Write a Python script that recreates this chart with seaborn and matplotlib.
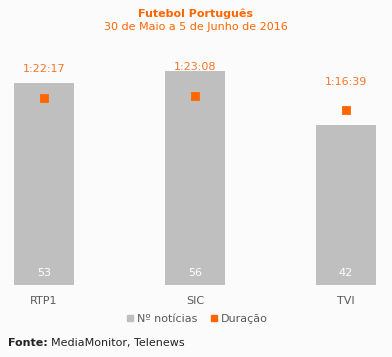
import matplotlib
matplotlib.use("Agg")
import matplotlib.pyplot as plt
import seaborn as sns
import pandas as pd
from matplotlib.lines import Line2D

# ====================
#  DATA
# ====================

canais = ["RTP1", "SIC", "TVI"]
noticias = [53, 56, 42]
duracao_txt = ["1:22:17", "1:23:08", "1:16:39"]


def to_seconds(t):
    h, m, s = [int(p) for p in t.split(":")]
    return h * 3600 + m * 60 + s


duracao_seg = [to_seconds(t) for t in duracao_txt]

# ====================
#  STYLE
# ====================

sns.set_style("white")
plt.rcParams["font.family"] = ["DejaVu Sans"]

BG = "#fbfbfb"
GREY = "#bfbfbf"
ORANGE = "#ff6600"
LABEL_ORANGE = "#f7752a"
TEXT = "#595959"

df = pd.DataFrame({"canal": canais, "noticias": noticias, "duracao": duracao_seg})

fig = plt.figure(figsize=(3.92, 3.57), dpi=100, facecolor=BG)
ax = fig.add_axes([5 / 392, 1 - 285 / 357, 380 / 392, 225 / 357])
ax.set_facecolor(BG)

sns.barplot(data=df, x="canal", y="noticias", color=GREY, width=0.4,
            saturation=1, ax=ax, edgecolor="none")

# bar values, white, at the foot of each bar
for i, v in enumerate(noticias):
    ax.annotate(str(v), (i, 0), xytext=(0, 5), textcoords="offset points",
                ha="center", va="bottom", color="white", fontsize=8)

ax.set_ylim(0, 59)

ax2 = ax.twinx()
sns.pointplot(data=df, x="canal", y="duracao", color=ORANGE, markers="s",
              linestyle="none", markersize=5, ax=ax2, errorbar=None)
ax2.set_ylim(-148, 5966)

for i, (v, t) in enumerate(zip(duracao_seg, duracao_txt)):
    ax2.annotate(t, (i, v), xytext=(0, 17), textcoords="offset points",
                 ha="center", va="bottom", color=LABEL_ORANGE, fontsize=8)

for a in (ax, ax2):
    a.set_xlim(-0.258, 2.258)
    a.set_xlabel("")
    a.set_ylabel("")
    a.set_yticks([])
    for s in a.spines.values():
        s.set_visible(False)

ax.tick_params(axis="x", length=0, colors=TEXT, labelsize=8, pad=8)

# titles
fig.text(0.5, 1 - 14 / 357, "Futebol Português", ha="center", va="center",
         fontsize=8, fontweight="bold", color=ORANGE)
fig.text(0.5, 1 - 27 / 357, "30 de Maio a 5 de Junho de 2016", ha="center",
         va="center", fontsize=8, color=ORANGE)

# legend
handles = [
    Line2D([], [], marker="s", linestyle="none", color=GREY, markersize=5),
    Line2D([], [], marker="s", linestyle="none", color=ORANGE, markersize=5),
]
fig.legend(handles, ["Nº notícias", "Duração"], loc="center",
           bbox_to_anchor=(0.5, 1 - 319 / 357), ncol=2, frameon=False,
           fontsize=8, labelcolor=TEXT, handletextpad=0.1, columnspacing=1.0,
           handlelength=1)

# footer
t1 = fig.text(8 / 392, 1 - 343 / 357, "Fonte:", ha="left", va="center",
              fontsize=8, fontweight="bold", color="#222222")
fig.canvas.draw()
bb = t1.get_window_extent()
fig.text(bb.x1 / fig.bbox.width + 3 / 392, 1 - 343 / 357,
         "MediaMonitor, Telenews", ha="left", va="center", fontsize=8,
         color="#222222")

fig.savefig("out.png", dpi=100, facecolor=BG)
